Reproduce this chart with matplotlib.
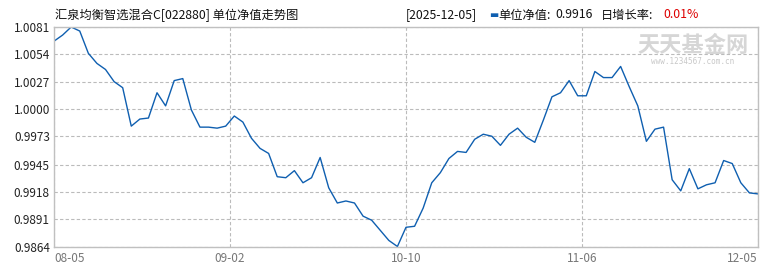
import matplotlib
matplotlib.use('agg')
import matplotlib.pyplot as plt

plt.rcParams['font.family'] = ['Noto Sans CJK SC', 'DejaVu Sans']

# 单位净值 (08-05 ~ 12-05)
nav = [1.0067, 1.0073, 1.0081, 1.0077, 1.0055, 1.0045, 1.0039, 1.0027, 1.0021, 0.9983,
       0.9990, 0.9991, 1.0016, 1.0003, 1.0028, 1.0030, 0.9999, 0.9982, 0.9982, 0.9981,
       0.9983, 0.9993, 0.9987, 0.9971, 0.9961, 0.9956, 0.9933, 0.9932, 0.9939, 0.9927,
       0.9932, 0.9952, 0.9922, 0.9907, 0.9909, 0.9907, 0.9894, 0.9890, 0.9880, 0.9870,
       0.9864, 0.9883, 0.9884, 0.9902, 0.9927, 0.9937, 0.9951, 0.9958, 0.9957, 0.9970,
       0.9975, 0.9973, 0.9964, 0.9975, 0.9981, 0.9972, 0.9967, 0.9989, 1.0012, 1.0016,
       1.0028, 1.0013, 1.0013, 1.0037, 1.0031, 1.0031, 1.0042, 1.0022, 1.0003, 0.9968,
       0.9980, 0.9982, 0.9930, 0.9919, 0.9941, 0.9921, 0.9925, 0.9927, 0.9949, 0.9946,
       0.9927, 0.9917, 0.9916]
x_labels = ['08-05', '09-02', '10-10', '11-06', '12-05']
y_ticks = [0.9864, 0.9891, 0.9918, 0.9945, 0.9973, 1.0000, 1.0027, 1.0054, 1.0081]

title = '汇泉均衡智选混合C[022880] 单位净值走势图'
last_date = '2025-12-05'
last_nav = '0.9916'
day_rate = '0.01%'

W, H = 770, 270
fig = plt.figure(figsize=(W / 100, H / 100), dpi=100)
ax = fig.add_axes([54 / W, 1 - 246.5 / H, (758 - 54) / W, (246.5 - 27) / H])

xs = list(range(len(nav)))
ax.plot(xs, nav, color='#0f5fb0', lw=1.0)

ax.set_xlim(0, len(nav) - 1)
ax.set_ylim(min(y_ticks), max(y_ticks))
ax.set_yticks(y_ticks)
ax.set_yticklabels(['%.4f' % v for v in y_ticks], fontsize=8.5, color='#222222')

n = len(nav) - 1
xt = [n * k / 4 for k in range(5)]
ax.set_xticks(xt)
ax.set_xticklabels(x_labels, fontsize=8.5, color='#777777')
tl = ax.get_xticklabels()
tl[0].set_ha('left')
tl[-1].set_ha('right')

ax.tick_params(length=0, pad=3)
ax.tick_params(axis='x', pad=4)
ax.grid(True, color='#bbbbbb', ls=(0, (3, 2)), lw=0.8)
for s in ax.spines.values():
    s.set_color('#c0c0c0')
    s.set_linewidth(1.0)

def px(x, y):
    return x / W, 1 - y / H

# 标题
fs = 8.8
fig.text(*px(55, 15), title, fontsize=fs, va='center', ha='left', color='#111111')
fig.text(*px(406, 15), '[' + last_date + ']', fontsize=fs, va='center', ha='left', color='#111111')
fig.text(*px(489, 15), '▬', fontsize=7, va='center', ha='left', color='#0f5fb0',
         family=['DejaVu Sans'])
fig.text(*px(498, 15), '单位净值:', fontsize=fs, va='center', ha='left', color='#111111')
fig.text(*px(555, 15), last_nav, fontsize=fs, va='center', ha='left', color='#111111')
fig.text(*px(601, 15), '日增长率:', fontsize=fs, va='center', ha='left', color='#111111')
fig.text(*px(663, 15), day_rate, fontsize=fs, va='center', ha='left', color='#dd0000')

# 水印
fig.text(*px(693, 45), '天天基金网', fontsize=16, va='center', ha='center',
         color='#d6d6d6', fontweight='bold')
fig.text(*px(693, 62), 'www.1234567.com.cn', fontsize=5.5, va='center', ha='center',
         color='#c8c8c8', family=['DejaVu Sans Mono'])

plt.savefig('out.png', dpi=100)
